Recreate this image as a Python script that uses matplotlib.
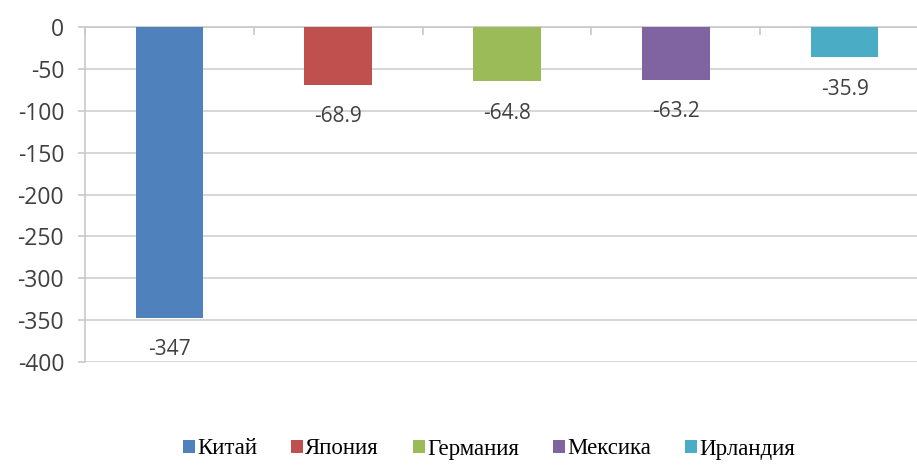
import matplotlib.pyplot as plt
from matplotlib.patches import Patch

plt.rcParams['axes.unicode_minus'] = False

# Countries and their values
countries = ['Китай', 'Япония', 'Германия', 'Мексика', 'Ирландия']
values = [-347, -68.9, -64.8, -63.2, -35.9]
labels = ['-347', '-68.9', '-64.8', '-63.2', '-35.9']
colors = ['#4f81bd', '#c0504d', '#9bbb59', '#8064a2', '#4bacc6']

fig = plt.figure(figsize=(9.17, 4.66), dpi=100)
ax = fig.add_axes([85 / 917, 1 - 362 / 466, 844 / 917, 335 / 466])

x = list(range(len(countries)))
ax.bar(x, values, width=0.4, color=colors, zorder=3)

# value labels under each bar
for xi, v, lab in zip(x, values, labels):
    ax.annotate(lab, (xi, v), xytext=(0, -23), textcoords='offset points',
                ha='center', va='center', fontsize=15, color='#404040',
                family='Open Sans')

ax.set_xlim(-0.5, 4.5)
ax.set_ylim(-400, 0)
ax.set_yticks(range(-400, 1, 50))
ax.yaxis.grid(True, color='#d0d0d0', linewidth=1.2, zorder=0)

# category axis sits on the zero line with small inward ticks
ax.xaxis.tick_top()
ax.set_xticks([i - 0.5 for i in range(6)])
ax.set_xticklabels([])
ax.tick_params(axis='x', direction='in', length=6, color='#c8c8c8', width=1.2)
ax.tick_params(axis='y', length=5, color='#c8c8c8', width=1.2,
               labelsize=16.5, labelcolor='#404040', pad=10)
for t in ax.get_yticklabels():
    t.set_family('Open Sans')

for side in ['right', 'bottom']:
    ax.spines[side].set_visible(False)
for side in ['left', 'top']:
    ax.spines[side].set_color('#c8c8c8')
    ax.spines[side].set_linewidth(1.2)

handles = [Patch(facecolor=c, label=n) for c, n in zip(colors, countries)]
fig.legend(handles=handles, loc='center', bbox_to_anchor=(489 / 917, 1 - 449 / 466),
           ncol=5, frameon=False, handlelength=0.5, handleheight=0.5,
           handletextpad=0.1, columnspacing=1.5,
           prop={'family': 'Liberation Serif', 'size': 16.5})

fig.savefig('out.png', dpi=100)
